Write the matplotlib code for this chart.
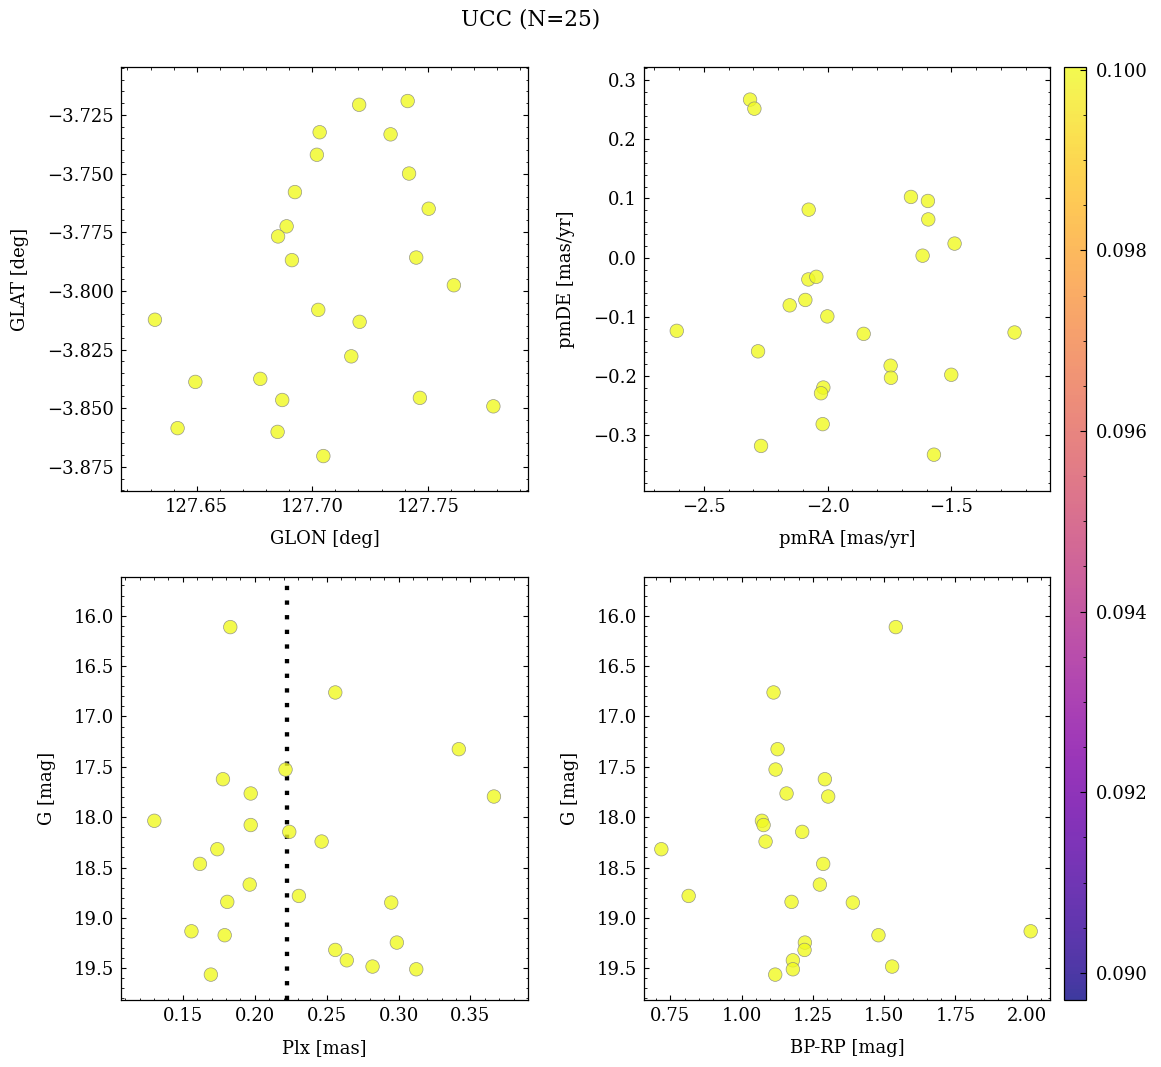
#!/usr/bin/env python
# -*- encoding: utf-8 -*-
import matplotlib
matplotlib.use('Agg')
import matplotlib.pyplot as plt
from matplotlib.ticker import AutoMinorLocator, MultipleLocator

# 数据
glon = [127.6319, 127.6417, 127.6494, 127.6775, 127.6870, 127.6850, 127.7048, 127.7026,
		127.7205, 127.7169, 127.7466, 127.7784, 127.7613, 127.7450, 127.7504, 127.7419,
		127.7339, 127.7413, 127.7203, 127.7032, 127.7020, 127.6925, 127.6889, 127.6852,
		127.6912]
glat = [-3.8123, -3.8585, -3.8388, -3.8375, -3.8465, -3.8601, -3.8704, -3.8081,
		-3.8132, -3.8279, -3.8456, -3.8492, -3.7976, -3.7858, -3.7650, -3.7500,
		-3.7333, -3.7191, -3.7207, -3.7324, -3.7420, -3.7579, -3.7725, -3.7768,
		-3.7869]

pmra = [-2.3137, -2.2962, -2.0767, -1.6634, -1.5948, -1.5934, -1.4871, -1.6163,
		-2.0781, -2.0458, -2.0902, -2.1535, -2.0013, -2.6099, -2.2814, -1.8546,
		-1.7456, -1.7442, -1.5005, -1.2447, -2.0175, -2.0269, -2.0202, -2.2693,
		-1.5705]
pmde = [0.2670, 0.2517, 0.0811, 0.1026, 0.0958, 0.0646, 0.0238, 0.0034,
		-0.0368, -0.0323, -0.0714, -0.0805, -0.0992, -0.1236, -0.1582, -0.1287,
		-0.1825, -0.2029, -0.1978, -0.1264, -0.2194, -0.2290, -0.2812, -0.3180,
		-0.3328]

plx = [0.1830, 0.2560, 0.3419, 0.2214, 0.1779, 0.1972, 0.3663, 0.1302,
	   0.1972, 0.2240, 0.2465, 0.1740, 0.1619, 0.1965, 0.2307, 0.1809,
	   0.2949, 0.1560, 0.1791, 0.2988, 0.2560, 0.2640, 0.2819, 0.3123,
	   0.1695]
bp_rp = [1.5409, 1.1121, 1.1262, 1.1192, 1.2921, 1.1577, 1.3037, 1.0713,
		 1.0771, 1.2126, 1.0841, 0.7185, 1.2862, 1.2745, 0.8143, 1.1752,
		 1.3902, 2.0140, 1.4801, 1.2220, 1.2208, 1.1799, 1.5280, 1.1799,
		 1.1180]
gmag = [16.113, 16.762, 17.325, 17.527, 17.623, 17.765, 17.795, 18.036,
		18.078, 18.146, 18.242, 18.318, 18.464, 18.669, 18.782, 18.841,
		18.848, 19.133, 19.172, 19.245, 19.318, 19.421, 19.483, 19.510,
		19.563]
memb_prob = [0.1] * 25
plx_mean = 0.2223
cb_ticks = [0.090, 0.092, 0.094, 0.096, 0.098, 0.100]

plt.rcParams['font.family'] = ['DejaVu Serif']
plt.rcParams['font.size'] = 13
plt.rcParams['xtick.direction'] = 'in'
plt.rcParams['ytick.direction'] = 'in'
plt.rcParams['xtick.top'] = True
plt.rcParams['ytick.right'] = True
plt.rcParams['xtick.major.size'] = 3.5
plt.rcParams['ytick.major.size'] = 3.5
plt.rcParams['xtick.minor.size'] = 1.8
plt.rcParams['ytick.minor.size'] = 1.8
plt.rcParams['xtick.major.pad'] = 5
plt.rcParams['ytick.major.pad'] = 5
plt.rcParams['xtick.minor.visible'] = True
plt.rcParams['ytick.minor.visible'] = True
plt.rcParams['axes.linewidth'] = 0.9


def draw(ax, x, y, xlabel, ylabel):
	sc = ax.scatter(x, y, c=memb_prob, cmap='plasma', vmin=0.0897, vmax=0.10003,
					s=95, alpha=0.8, edgecolors='grey', linewidths=0.5, zorder=3)
	ax.set_xlabel(xlabel, labelpad=10)
	ax.set_ylabel(ylabel, labelpad=13)
	ax.xaxis.set_minor_locator(AutoMinorLocator())
	ax.yaxis.set_minor_locator(AutoMinorLocator())
	return sc


fig = plt.figure(figsize=(11.61, 10.67), dpi=100)
ax1 = fig.add_axes([0.1042, 0.5398, 0.3506, 0.3974])
ax2 = fig.add_axes([0.5547, 0.5398, 0.3497, 0.3974])
ax3 = fig.add_axes([0.1042, 0.0628, 0.3506, 0.3964])
ax4 = fig.add_axes([0.5547, 0.0628, 0.3497, 0.3964])
cax = fig.add_axes([0.9164, 0.0628, 0.0189, 0.8744])

sc = draw(ax1, glon, glat, 'GLON [deg]', 'GLAT [deg]')
ax1.set_xlim(127.6172, 127.7934)
ax1.set_ylim(-3.8853, -3.7046)
ax1.xaxis.set_major_locator(MultipleLocator(0.05))
ax1.yaxis.set_major_locator(MultipleLocator(0.025))

draw(ax2, pmra, pmde, 'pmRA [mas/yr]', 'pmDE [mas/yr]')
ax2.set_xlim(-2.7423, -1.1014)
ax2.set_ylim(-0.3942, 0.3221)
ax2.xaxis.set_major_locator(MultipleLocator(0.5))
ax2.yaxis.set_major_locator(MultipleLocator(0.1))

draw(ax3, plx, gmag, 'Plx [mas]', 'G [mag]')
ax3.axvline(plx_mean, color='k', lw=3.1, linestyle=(0, (1, 2.4)), zorder=2)
ax3.set_xlim(0.107, 0.39)
ax3.set_ylim(19.815, 15.616)
ax3.xaxis.set_major_locator(MultipleLocator(0.05))
ax3.yaxis.set_major_locator(MultipleLocator(0.5))

draw(ax4, bp_rp, gmag, 'BP-RP [mag]', 'G [mag]')
ax4.set_xlim(0.6577, 2.0818)
ax4.set_ylim(19.815, 15.616)
ax4.xaxis.set_major_locator(MultipleLocator(0.25))
ax4.yaxis.set_major_locator(MultipleLocator(0.5))

cb = fig.colorbar(sc, cax=cax)
cb.set_ticks(cb_ticks)
cb.minorticks_on()
cb.ax.yaxis.set_minor_locator(AutoMinorLocator(4))
cb.ax.tick_params(which='major', direction='in', left=False, right=True, length=4, pad=7)
cb.ax.tick_params(which='minor', direction='in', left=False, right=True, length=2)

fig.suptitle('UCC (N=25)', x=0.457, y=0.992, fontsize=15.5)
fig.savefig('out.png', dpi=100)
